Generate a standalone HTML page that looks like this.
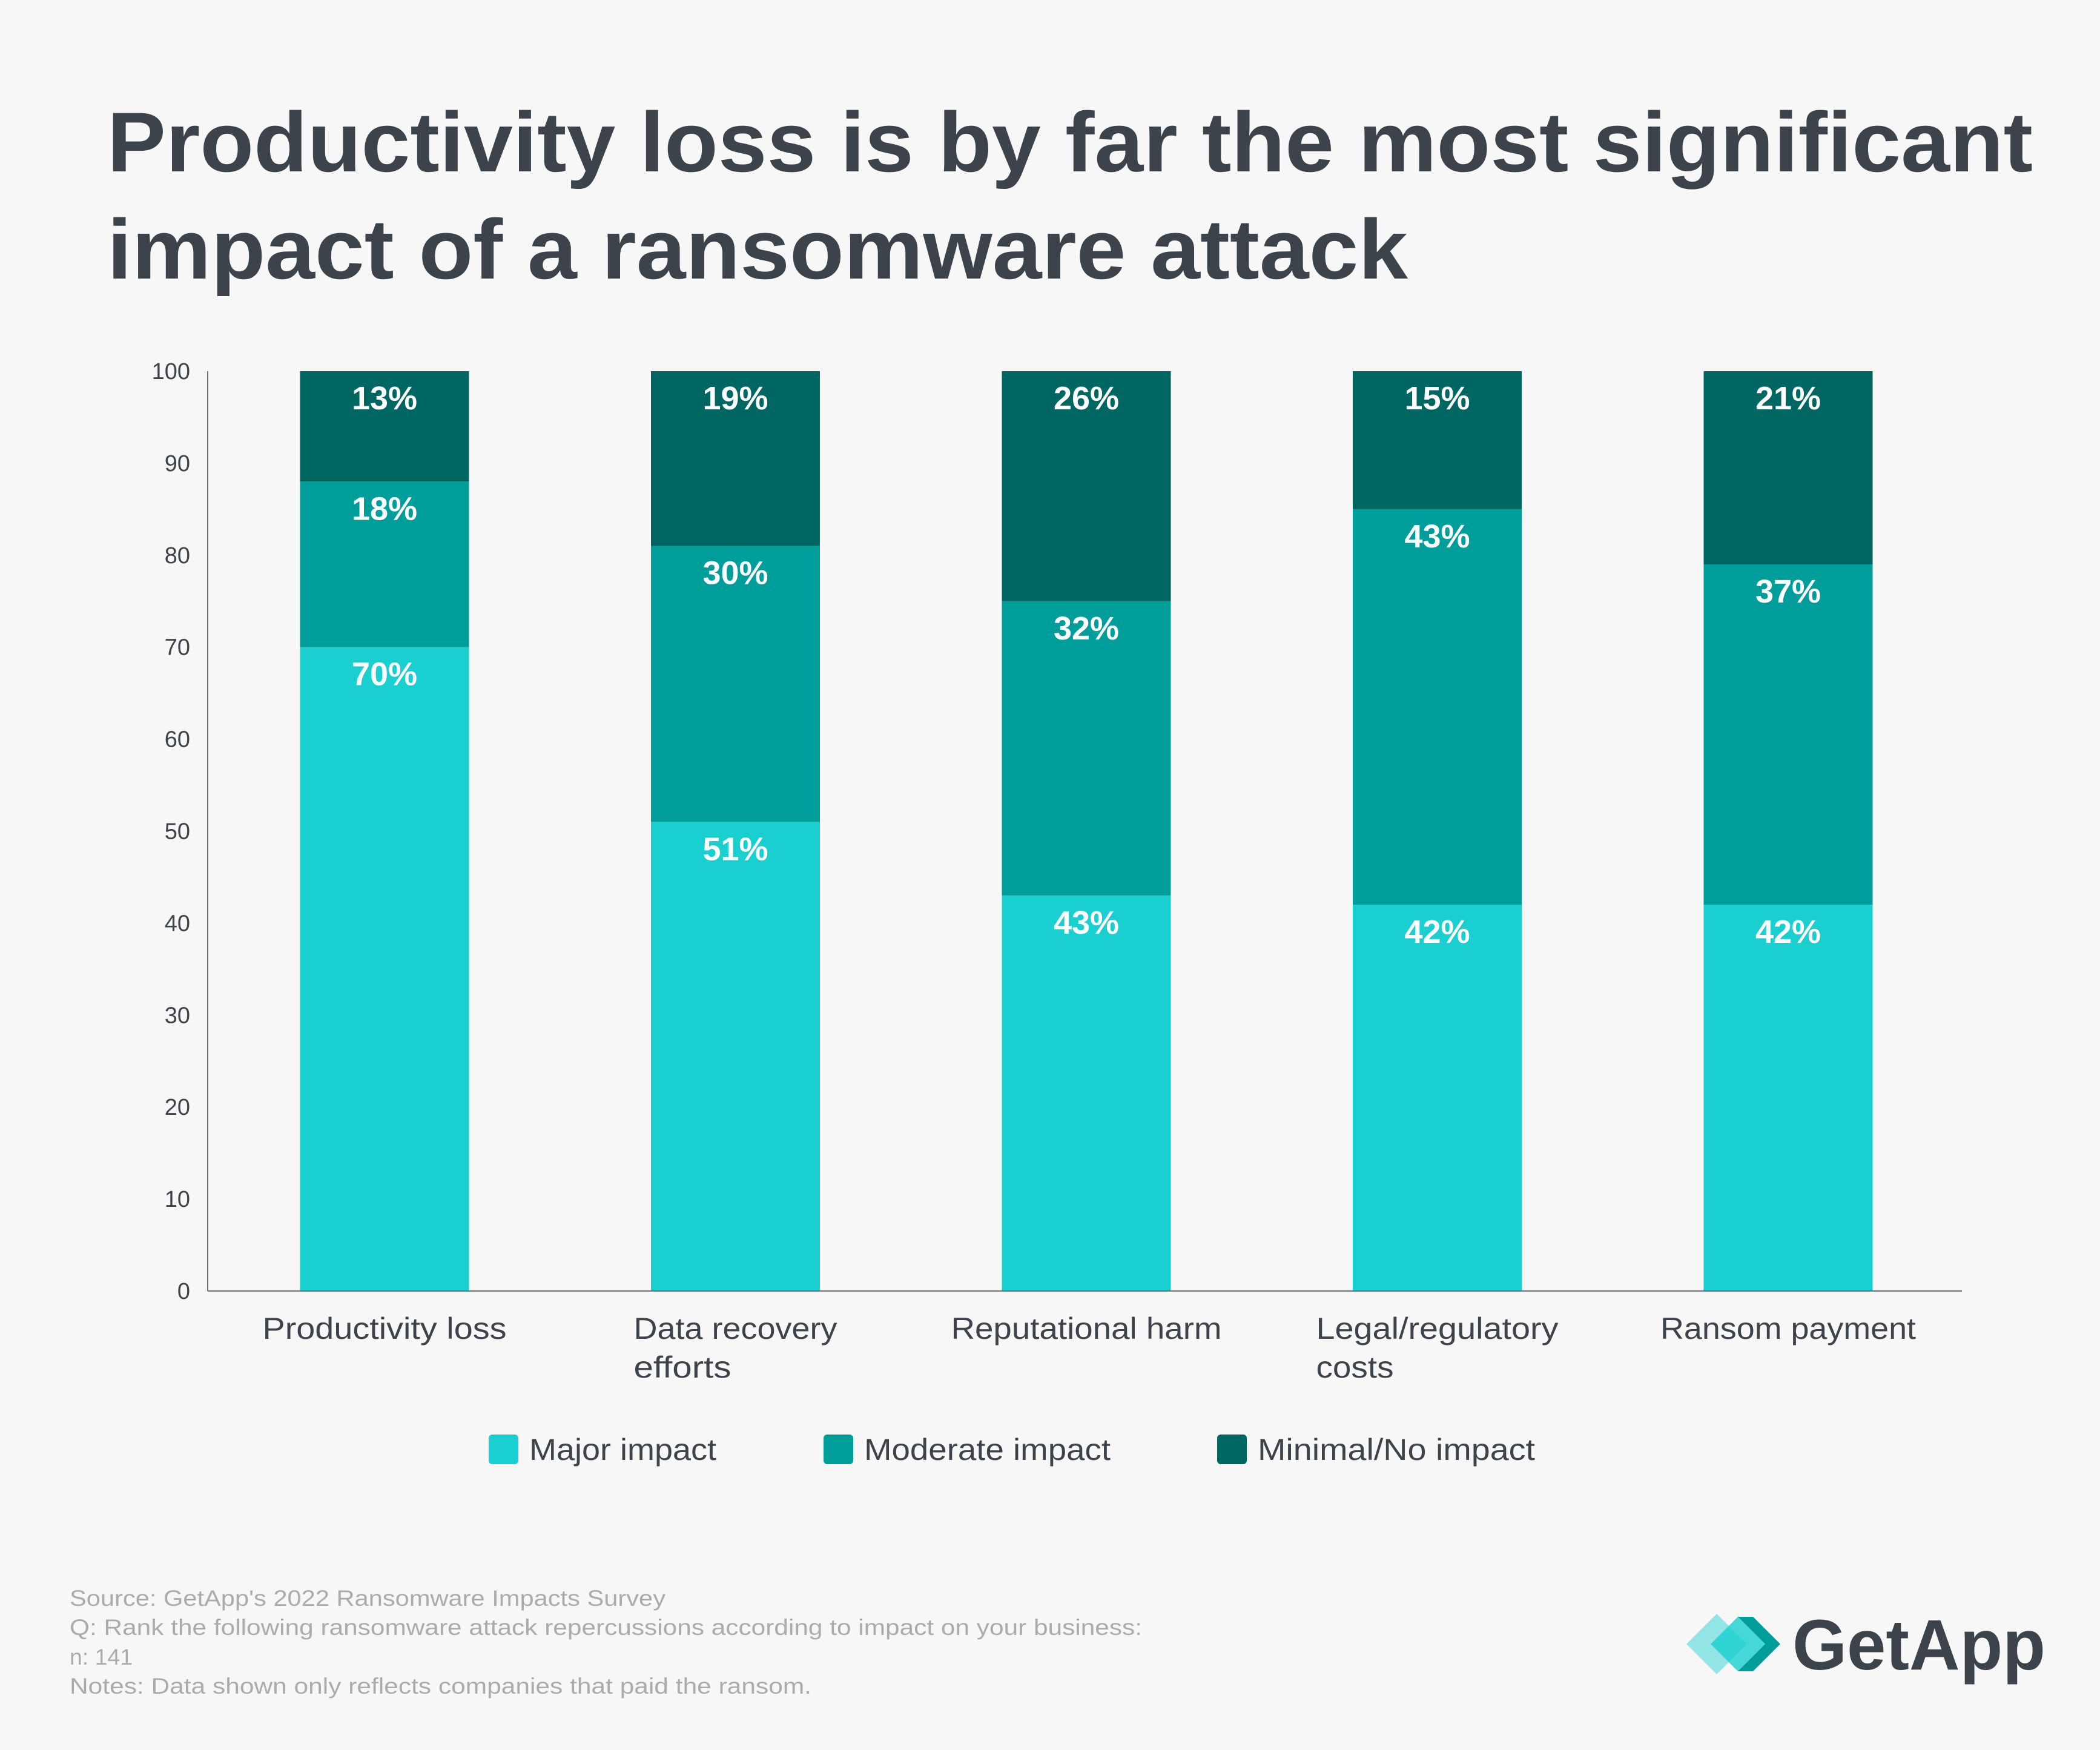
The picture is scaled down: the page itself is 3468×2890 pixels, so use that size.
<!DOCTYPE html>
<html><head><meta charset="utf-8"><style>
html,body{margin:0;padding:0;background:#f7f7f7;}
svg{display:block;font-family:"Liberation Sans",sans-serif;}
</style></head><body>
<svg id="chart" width="3468" height="2890" viewBox="0 0 3468 2890" xmlns="http://www.w3.org/2000/svg">
<rect width="3468" height="2890" fill="#f7f7f7"/>
<g fill="#3d434a" font-weight="bold" font-size="140">
<text x="177" y="283" textLength="3180" lengthAdjust="spacingAndGlyphs">Productivity loss is by far the most significant</text>
<text x="177" y="460" textLength="2148" lengthAdjust="spacingAndGlyphs">impact of a ransomware attack</text>
</g>
<g id="yaxis"></g>
<g id="bars"></g>
<g id="xaxis"></g>
<g font-size="50" fill="#3d434a">
<g><rect x="807" y="2369" width="49" height="49" rx="6" fill="#19cfcf"/><text x="874" y="2411" textLength="309" lengthAdjust="spacingAndGlyphs">Major impact</text></g>
<g><rect x="1360" y="2369" width="49" height="49" rx="6" fill="#009e9b"/><text x="1427" y="2411" textLength="407" lengthAdjust="spacingAndGlyphs">Moderate impact</text></g>
<g><rect x="2010" y="2369" width="49" height="49" rx="6" fill="#006661"/><text x="2077" y="2411" textLength="458" lengthAdjust="spacingAndGlyphs">Minimal/No impact</text></g>
</g>
<g font-size="37" fill="#a9abad">
<text x="115" y="2652" textLength="984" lengthAdjust="spacingAndGlyphs">Source: GetApp's 2022 Ransomware Impacts Survey</text>
<text x="115" y="2700" textLength="1771" lengthAdjust="spacingAndGlyphs">Q: Rank the following ransomware attack repercussions according to impact on your business:</text>
<text x="115" y="2749" textLength="104" lengthAdjust="spacingAndGlyphs">n: 141</text>
<text x="115" y="2797" textLength="1225" lengthAdjust="spacingAndGlyphs">Notes: Data shown only reflects companies that paid the ransom.</text>
</g>
<g>
<polygon points="2785,2715 2835,2665 2885,2715 2835,2765" fill="#19cfcf" opacity="0.45"/>
<polygon points="2825,2715 2870,2670 2915,2715 2870,2760" fill="#19cfcf" opacity="0.8"/>
<polygon points="2870,2670 2895,2670 2940,2715 2895,2760 2870,2760 2915,2715" fill="#009e9b"/>
<text x="2960" y="2757" font-size="118" font-weight="bold" fill="#3d434a" textLength="418" lengthAdjust="spacingAndGlyphs">GetApp</text>
</g>
</svg>
<script>
const categories = ["Productivity loss", "Data recovery|efforts", "Reputational harm", "Legal/regulatory|costs", "Ransom payment"];
const majorValues = [70, 51, 43, 42, 42];
const moderateValues = [18, 30, 32, 43, 37];
const minimalValues = [13, 19, 26, 15, 21];
const yTicks = [0, 10, 20, 30, 40, 50, 60, 70, 80, 90, 100];
const NS = "http://www.w3.org/2000/svg";
const plotTop = 613, plotBottom = 2132, axisLeft = 343, axisRight = 3240;
const firstCenter = 635, step = 579.5, barW = 279;
const labelWidths = {"Productivity loss":403,"Data recovery":336,"efforts":161,"Reputational harm":447,"Legal/regulatory":400,"costs":128,"Ransom payment":422};
function y(v){ return plotBottom - (Math.min(v,100)/100)*(plotBottom-plotTop); }
function xc(i){ return firstCenter + i*step; }
function mk(tag, attrs, parent){ const e=document.createElementNS(NS,tag); for(const k in attrs) e.setAttribute(k,attrs[k]); parent.appendChild(e); return e; }
const yg=document.getElementById('yaxis'), bg=document.getElementById('bars'), xg=document.getElementById('xaxis');
yTicks.forEach(t=>{
  const tx=mk('text',{x:314,y:y(t)+13,'text-anchor':'end','font-size':38,fill:'#3d434a'},yg);
  tx.textContent=t;
  
  
});
const yl=mk('line',{x1:axisLeft,x2:axisLeft,y1:plotTop,y2:plotBottom,stroke:'#6b6f73','stroke-width':2},yg);


const series=[[majorValues,'#19cfcf','major'],[moderateValues,'#009e9b','moderate'],[minimalValues,'#006661','minimal']];
categories.forEach((c,i)=>{
  let base=0;
  series.forEach(([vals,col,nm])=>{
    const v=vals[i], top=Math.min(base+v,100);
    const r=mk('rect',{x:xc(i)-barW/2,y:y(top),width:barW,height:y(base)-y(top),fill:col},bg);
    
    
    const t=mk('text',{x:xc(i),y:y(top)+63,'text-anchor':'middle','font-size':54,'font-weight':'bold',fill:'#ffffff'},bg);
    t.textContent=v+'%';
    
    
    base=top;
  });
  const lines=c.split('|');
  const lx = lines.length>1 ? xc(i)-(labelWidths[lines[0]]||336)/2 : xc(i);
  lines.forEach((ln,k)=>{
    const attrs={x:lx,y:2211+k*64,'text-anchor':lines.length>1?'start':'middle','font-size':50,fill:'#3d434a'};
    if(labelWidths[ln]){ attrs.textLength=labelWidths[ln]; attrs.lengthAdjust='spacingAndGlyphs'; }
    const t=mk('text',attrs,xg);
    t.textContent=ln;
    
    
  });
});
const xl=mk('line',{x1:axisLeft,x2:axisRight,y1:plotBottom,y2:plotBottom,stroke:'#6b6f73','stroke-width':2},xg);


</script>
</body></html>
